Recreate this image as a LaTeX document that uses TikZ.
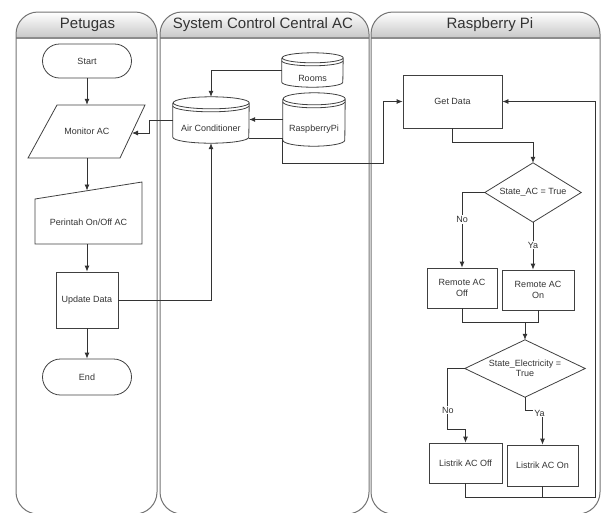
\documentclass[tikz,border=0pt]{standalone}
\usepackage{fontspec}
\setmainfont{Liberation Sans}
\usetikzlibrary{arrows.meta,calc}
\newcommand\cylout[3]{%
  \draw[shapeline] ($(#1.north west)+(0pt,-#3)$) -- ($(#1.south west)+(0pt,#3)$)
    arc[start angle=180,end angle=360,x radius=#2,y radius=#3]
    -- ($(#1.north east)+(0pt,-#3)$)
    arc[start angle=0,end angle=180,x radius=#2,y radius=#3]
    arc[start angle=180,end angle=360,x radius=#2,y radius=#3];
  \draw[shapeline] ($(#1.north west)+(0pt,-#3-3pt)$)
    arc[start angle=180,end angle=360,x radius=#2,y radius=#3];}
\begin{document}
\begin{tikzpicture}[x=1pt,y=1pt,
  lane/.style={draw=black!55, line width=1pt, rounded corners=22pt},
  hdr/.style={font=\fontsize{15}{17}\selectfont, text=black!80},
  shapeline/.style={draw=black!75, line width=0.8pt},
  box/.style={shapeline, inner sep=1pt, align=center, font=\fontsize{9}{10.5}\selectfont, text=black!80},
  ghost/.style={inner sep=0pt, align=center, font=\fontsize{9}{10.5}\selectfont, text=black!80},
  conn/.style={draw=black!80, line width=0.8pt},
  arr/.style={conn, -{Latex[length=6pt,width=5pt]}},
  lbl/.style={fill=white, inner sep=1pt, font=\fontsize{9}{10.5}\selectfont, text=black!80}]
\useasboundingbox (0,0) rectangle (602,-512);
% lanes
\begin{scope}
\clip (0,0) rectangle (602,-512);
\foreach \a/\b in {16/157,160/369,371/600}{
  \begin{scope}
    \clip[rounded corners=22pt] (\a,-12) rectangle (\b,-514);
    \shade[top color=white,bottom color=black!22] (\a,-12) rectangle (\b,-38);
    \draw[black!45,line width=1.6pt] (\a,-38) -- (\b,-38);
  \end{scope}
  \draw[lane] (\a,-12) rectangle (\b,-514);
}
\end{scope}
\node[hdr] (h1) at (87.5,-25) {Petugas};
\node[hdr] (h2) at (263,-25) {System Control Central AC};
\node[hdr] (h3) at (490,-25) {Raspberry Pi};
% lane 1
\node[box, rounded corners=17pt, minimum width=89pt, minimum height=34pt] (start) at (87,-61) {Start};
\node[ghost, minimum width=80pt, minimum height=53pt] (mon) at (87,-131.5) {Monitor AC};
\draw[shapeline] (57,-105) -- (145,-105) -- (120,-158) -- (28,-158) -- cycle;
\coordinate (monr) at (132,-133);
\node[ghost, minimum width=107pt, minimum height=44pt] (per) at (88.5,-222) {Perintah On/Off AC};
\draw[shapeline] (35,-199) -- (142,-182) -- (142,-244) -- (35,-244) -- cycle;
\coordinate (pertop) at (87,-190.5);
\node[box, minimum width=62pt, minimum height=56pt] (upd) at (87,-300) {Update Data};
\node[box, rounded corners=18pt, minimum width=89pt, minimum height=36pt] (end) at (87,-377) {End};
\draw[arr] (start.south) -- (mon.north);
\draw[arr] (mon.south) -- (pertop);
\draw[arr] (upd.north |- per.south) -- (upd.north);
\draw[arr] (upd.south) -- (end.north);
% lane 2
\node[ghost, minimum width=76pt, minimum height=46pt, label={[ghost, yshift=-8pt]center:Air Conditioner}] (ac) at (211,-120) {};
\cylout{ac}{38pt}{6pt}
\node[ghost, minimum width=61pt, minimum height=34pt, label={[ghost, yshift=-8pt]center:Rooms}] (rooms) at (312.5,-70) {};
\cylout{rooms}{30.5pt}{5pt}
\node[ghost, minimum width=62pt, minimum height=53pt, label={[ghost, yshift=-10pt]center:RaspberryPi}] (rasp) at (314,-119.5) {};
\cylout{rasp}{31pt}{6pt}
\draw[arr] (rooms.west) -| (ac.north);
\draw[arr] (rasp.west) -- (rasp.west -| ac.east);
\draw[arr] (ac.west) -- ++(-23,0) |- (monr);
\draw[arr] (upd.east) -| (ac.south);
% lane 3
\node[box, minimum width=99pt, minimum height=53pt] (get) at (452.5,-101.5) {Get Data};
\draw[arr] ($(ac.south east)+(0,5)$) -| (282,-163) -| (383,-101.5) -- (get.west);
\node[ghost, minimum width=96pt, minimum height=59pt] (d1) at (533,-192.5) {State\_AC = True};
\draw[shapeline] (d1.north) -- (d1.east) -- (d1.south) -- (d1.west) -- cycle;
\draw[arr] (get.south) -- ++(0,-14) -| (d1.north);
\node[box, minimum width=70pt, minimum height=40pt] (roff) at (462,-288) {Remote AC\\Off};
\node[box, minimum width=72pt, minimum height=40pt] (ron) at (538,-290) {Remote AC\\On};
\draw[arr] (d1.west) -| node[lbl, pos=0.68] (no1) {No} (roff.north);
\draw[arr] (d1.south) -- node[lbl, pos=0.48] (ya1) {Ya} (d1.south |- ron.north);
\coordinate (m1) at (525,-322);
\node[ghost, minimum width=120pt, minimum height=57pt] (d2) at (525,-368.5) {State\_Electricity =\\True};
\draw[shapeline] (d2.north) -- (d2.east) -- (d2.south) -- (d2.west) -- cycle;
\draw[conn] (roff.south) |- (ron.south |- m1) -- (ron.south);
\draw[arr] (m1) -- (d2.north);
\node[box, minimum width=73pt, minimum height=40pt] (loff) at (465.5,-463) {Listrik AC Off};
\node[box, minimum width=71pt, minimum height=41pt] (lon) at (542.5,-465.5) {Listrik AC On};
\draw[arr] (d2.west) -- ++(-17,0) |- node[lbl, pos=0.34] (no2) {No} ($(loff.north)+(0,13)$) -- (loff.north);
\draw[arr] (d2.south) -- ++(0,-13) -| node[lbl, pos=0.5, xshift=-3pt, yshift=-3pt] (ya2) {Ya} (lon.north);
\coordinate (lp) at (595,-497);
\draw[conn] (lon.south) -- (lon.south |- lp);
\draw[arr] (loff.south) |- (lp) |- (get.east);
\end{tikzpicture}
\end{document}
